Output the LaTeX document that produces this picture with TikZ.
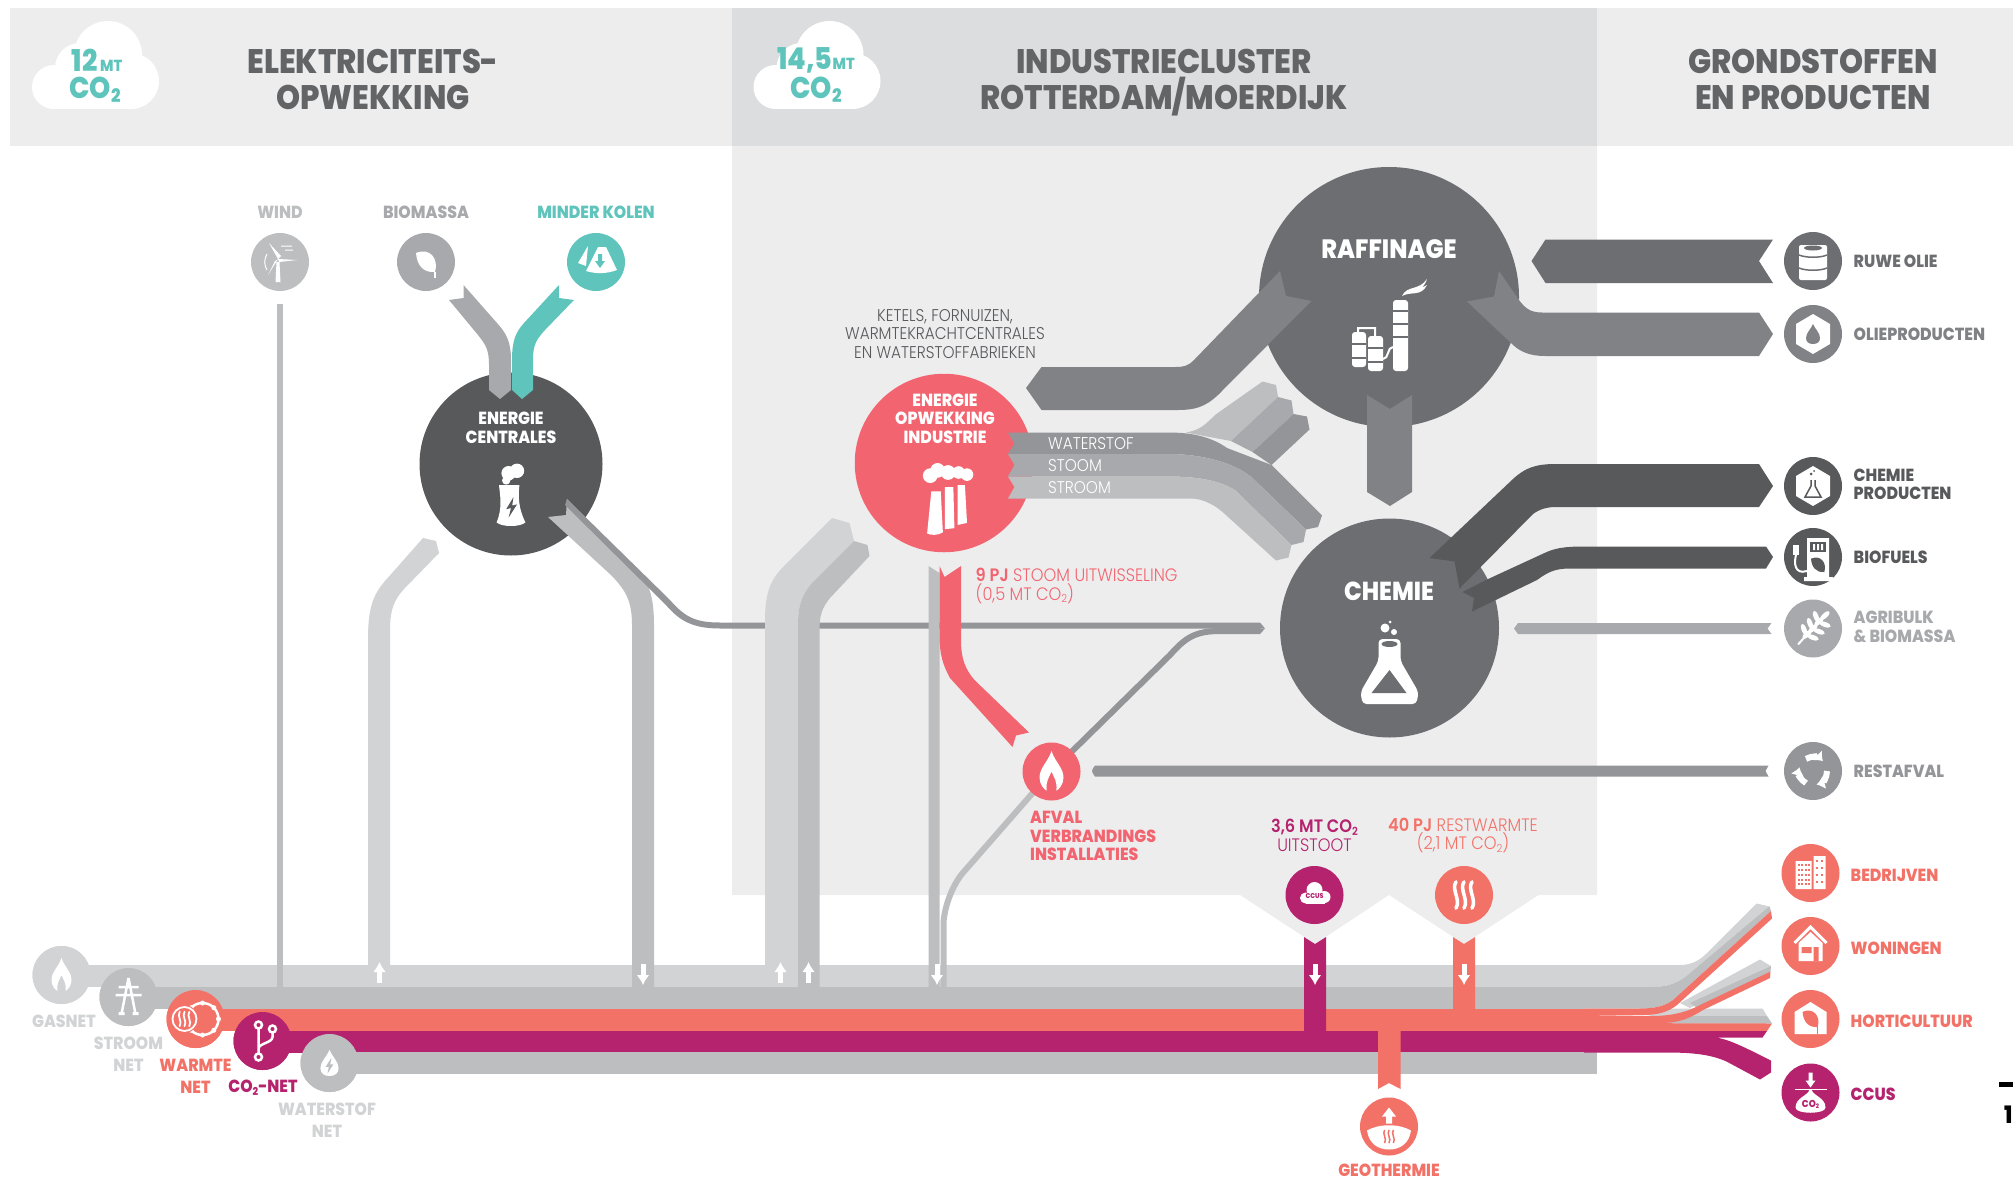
\documentclass[tikz,border=0pt]{standalone}
\usepackage{fontspec}
\usepackage{tikz}
\setmainfont[FakeStretch=0.9,BoldFont={Poppins ExtraBold}]{Poppins}
\newfontfamily\thinfont[FakeStretch=0.9]{Poppins Light}
\definecolor{gasgray}{HTML}{D1D3D4}
\definecolor{netgray}{HTML}{BCBEC0}
\definecolor{warmcoral}{HTML}{F37268}
\definecolor{coplum}{HTML}{B5236E}
\definecolor{firered}{HTML}{F26570}
\definecolor{coalteal}{HTML}{5EC4BC}
\definecolor{midgray}{HTML}{6D6E71}
\definecolor{flowgray}{HTML}{808285}
\definecolor{darkgray}{HTML}{58595B}
\definecolor{linegray}{HTML}{939598}
\definecolor{softgray}{HTML}{A7A9AC}
\definecolor{bandlight}{HTML}{EDEDEE}
\definecolor{banddark}{HTML}{DCDDDE}
\definecolor{titlegray}{HTML}{636466}
\newcommand{\COtwo}{CO\raisebox{-.25ex}{\scalebox{.62}{2}}}
\newcommand{\steamwaves}[1]{\foreach \x in {-8,0,8} \draw[white,line width=#1,line cap=round] (\x,-12) .. controls (\x-5,-5) and (\x+5,4) .. (\x,12);}
\newcommand{\leafshape}{\fill (-10,-9) .. controls (4,-15) and (13,-3) .. (9,10) .. controls (-3,11) and (-9,3) .. cycle;}
\newcommand{\hexshape}{\fill[white] (0,-20) -- (17,-10) -- (17,10) -- (0,20) -- (-17,10) -- (-17,-10) -- cycle;}
\newcommand{\dropshape}[1]{\fill[#1] (0,-10) .. controls (-2,-5) and (-7,-1) .. (-7,4) .. controls (-7,8) and (-4,10) .. (0,10) .. controls (4,10) and (7,8) .. (7,4) .. controls (7,-1) and (2,-5) .. (0,-10) -- cycle;}
\newcommand{\flameshape}{\fill[white] (0,-17) .. controls (-3,-8) and (-10,-3) .. (-10,5) .. controls (-10,11) and (-6,15) .. (-4,16) .. controls (-5,8) and (-2,5) .. (0,0) .. controls (2,5) and (5,8) .. (4,16) .. controls (6,15) and (10,11) .. (10,5) .. controls (10,-3) and (3,-8) .. (0,-17) -- cycle;}
\newcommand{\cloudshape}{%
  \fill[white] (76,55) circle (34) (48,68) circle (25) (22,87) circle (22) (99,81) circle (28);
  \fill[white] (22,70) rectangle (99,109);}
\tikzset{
  node style/.style={circle, inner sep=0pt, minimum size=58pt},
  big style/.style={circle, inner sep=0pt, fill=midgray},
  title style/.style={font=\fontsize{34}{36}\selectfont\bfseries, text=titlegray, align=center},
  label style/.style={font=\fontsize{17.5}{22}\selectfont\bfseries, align=center, inner sep=0pt},
  right style/.style={font=\fontsize{17.5}{18.5}\selectfont\bfseries, align=left, anchor=west, inner sep=0pt},
  bold style/.style={font=\fontsize{17.5}{18.5}\selectfont\bfseries, text=white, align=center, inner sep=0pt},
  thin style/.style={font=\fontsize{17}{18.5}\selectfont\thinfont, inner sep=0pt},
  wide thin/.style={font=\fontsize{18}{18.5}\selectfont\thinfont},
  cloud style/.style={font=\fontsize{30}{30}\selectfont\bfseries, text=coalteal, inner sep=0pt},
  net line/.style={line width=22pt},
  net arrow/.style={white, line width=5pt, -{Latex[length=10pt,width=13pt]}}
}
\usetikzlibrary{arrows.meta}
\begin{document}
\begin{tikzpicture}[x=1pt,y=-1pt]
        \useasboundingbox (0,0) rectangle (2013,1181);
        % Header bands and the industry panel
        \fill[bandlight] (10,8) rectangle (732,146);
        \fill[banddark] (732,8) rectangle (1597,146);
        \fill[bandlight] (1597,8) rectangle (2013,146);
        \fill[bandlight] (732,146) -- (1597,146) -- (1597,895) -- (1538.5,895) -- (1464,944) -- (1389,895)
            -- (1315,944) -- (1240,895) -- (732,895) -- cycle;
        \begin{scope}[shift={(32,0)}]\cloudshape\end{scope}
        \begin{scope}[shift={(753.5,0)}]\cloudshape\end{scope}
        \node[cloud style] at (97,60) (cloudone) {12\fontsize{16}{16}\selectfont\,MT};
        \node[cloud style] at (95,90) (cloudonec) {\COtwo};
        \node[cloud style] at (816,60) (cloudtwo) {14,5\fontsize{16}{16}\selectfont MT};
        \node[cloud style] at (816,90) (cloudtwoc) {\COtwo};
        \node[title style] at (373,79) (titleone) {ELEKTRICITEITS-\\OPWEKKING};
        \node[title style] at (1164,83) (titletwo) {INDUSTRIECLUSTER\\ROTTERDAM/MOERDIJK};
        \node[title style] at (1813,79) (titlethree) {GRONDSTOFFEN\\EN PRODUCTEN};

        % Net rows
        \coordinate (gasend) at (1584,976);
        \coordinate (stroomend) at (1584,998);
        \coordinate (warmteend) at (1584,1020);
        \coordinate (coend) at (1584,1041.5);
        \coordinate (waterend) at (1597,1063);
        \node[node style, fill=gasgray] at (61.5,975) (gasnet) {};
        \node[node style, fill=netgray] at (128.5,997) (stroomnet) {};
        \node[node style, fill=warmcoral] at (195.5,1019) (warmtenet) {};
        \node[node style, fill=coplum] at (262.5,1041) (conet) {};
        \node[node style, fill=netgray] at (329.5,1063) (waternet) {};
        \draw[net line, gasgray] (gasnet.center |- 0,976) -- (gasend);
        \draw[net line, netgray] (stroomnet.center |- 0,998) -- (stroomend);
        \draw[net line, warmcoral] (warmtenet.center |- 0,1020) -- (warmteend);
        \draw[net line, coplum] (conet.center |- 0,1041.5) -- (coend);
        \draw[net line, netgray] (waternet.center) -- (waterend);
        \node[node style, fill=gasgray] at (gasnet) {};
        \node[node style, fill=netgray] at (stroomnet) {};
        \node[node style, fill=warmcoral] at (warmtenet) {};
        \node[node style, fill=coplum] at (conet) {};
        \node[node style, fill=netgray] at (waternet) {};

        % Fan at the right end of the rows
        \fill[gasgray] (1640,1008.5) -- (1762.5,1008.5) -- (1767,1016) -- (1650,1016) -- cycle;
        \fill[netgray] (1650,1016) -- (1767,1016) -- (1772,1023.5) -- (1650,1023.5) -- cycle;
        \fill[warmcoral] (1584,1023) -- (1772,1023.5) -- (1767,1031) -- (1584,1031) -- cycle;
        \fill[gasgray] (1680,1003) -- (1760,959.5) -- (1771,966) -- (1690,1008) -- cycle;
        \fill[netgray] (1690,1003) -- (1771,966) -- (1770.5,971.5) -- (1700,1010) -- cycle;
        \fill[warmcoral] (1584,1015) -- (1650,1016) .. controls (1670,1016) and (1685,1013) .. (1700,1005)
            -- (1770.5,971.5) -- (1770,978) -- (1703,1010) .. controls (1690,1018) and (1680,1023) .. (1660,1023) -- (1584,1023) -- cycle;
        \fill[gasgray] (1584,965) -- (1680,965) .. controls (1692,965) and (1700,960) .. (1707,953)
            -- (1756.5,903.5) -- (1769.5,906.5) -- (1766.5,908.5) -- (1690,973) .. controls (1680,982) and (1670,987) .. (1650,987) -- (1584,987) -- cycle;
        \fill[netgray] (1584,987) -- (1650,987) .. controls (1670,987) and (1680,982) .. (1690,973)
            -- (1766.5,908.5) -- (1769.5,906.5) -- (1771,911) -- (1673,1000) .. controls (1665,1006) and (1655,1008.5) .. (1640,1008.5) -- (1584,1008.5) -- cycle;
        \fill[warmcoral] (1584,1008.5) -- (1640,1008.5) .. controls (1655,1008.5) and (1665,1006) .. (1673,1000)
            -- (1771,911) -- (1772,918.5) -- (1677,1005) .. controls (1668,1012) and (1658,1015) .. (1643,1015) -- (1584,1015) -- cycle;
        \fill[coplum] (1584,1031) -- (1767,1031) -- (1762.5,1037.5) -- (1716.5,1037.5) .. controls (1730,1040) and (1742,1046) .. (1771,1060.5)
            -- (1771,1072.5) -- (1760,1079.5) -- (1726.5,1061.5) .. controls (1712,1055) and (1695,1052.5) .. (1667,1052.5) -- (1584,1052.5) -- cycle;

        % Sources on top
        \node[node style, fill=netgray] at (280,262) (wind) {};
        \node[node style, fill=softgray] at (426,262) (biomassa) {};
        \node[node style, fill=coalteal] at (596,262) (kolen) {};
        \node[label style, text=netgray] at (280,212.5) (windlabel) {WIND};
        \node[label style, text=softgray] at (426,212.5) (biolabel) {BIOMASSA};
        \node[label style, text=coalteal] at (596,212.5) (kolenlabel) {MINDER KOLEN};
        \coordinate (windstart) at (280,304);
        \coordinate (windend) at (280,987);
        \draw[line width=6.5pt, netgray] (windstart) -- (windend);

        % Plants
        \node[big style, fill=darkgray, minimum size=183pt] at (511,464) (centrales) {};
        \node[big style, fill=firered, minimum size=178.5pt] at (944,463) (industrie) {};
        \node[big style, minimum size=260pt] at (1389,297) (raffinage) {};
        \node[big style, minimum size=219pt] at (1389.5,628) (chemie) {};
        \node[bold style] at (511,428) (centralestext) {ENERGIE\\CENTRALES};
        \node[bold style] at (945,418.5) (industrietext) {ENERGIE\\OPWEKKING\\INDUSTRIE};
        \node[bold style, font=\fontsize{26.5}{28}\selectfont\bfseries] at (1389,249) (raffinagetext) {RAFFINAGE};
        \node[bold style, font=\fontsize{26}{28}\selectfont\bfseries] at (1389,591) (chemietext) {CHEMIE};

        % Thin lines towards the chemie circle, with the return pipe under them
        \fill[netgray] (548,517) -- (566,515) -- (567,499) -- (640,572) .. controls (650,585) and (654,600) .. (654,625)
            -- (654,987) -- (632,987) -- (632,625) .. controls (632,600) and (625,590) .. (612,576) -- cycle;
        \fill[linegray] (567,499) -- (670,600) .. controls (685,617) and (695,622.5) .. (720,622.5) -- (1260,622.5) -- (1265,628.5) -- (1260,628.5) -- (720,628.5)
            .. controls (690,628.5) and (678,619) .. (665,604) -- (565,505) -- cycle;
        \draw[line width=6pt, netgray, rounded corners=30pt] (943.5,987) -- (943.5,895) -- (1051,772);
        \draw[line width=6pt, linegray] (1051,772) -- (1170,655) .. controls (1185,638) and (1195,631) .. (1220,631) -- (1260,631);
        \fill[linegray] (1260,628.5) -- (1265,628.5) -- (1260,634) -- cycle;

        % Pipes between the net and the plants
        \fill[gasgray] (423,538) -- (436,541) -- (439,553) -- (404,589) .. controls (394,600) and (390,610) .. (390,630)
            -- (390,987) -- (368,987) -- (368,640) .. controls (368,610) and (372,596) .. (385,581) -- cycle;
        \fill[gasgray] (832,518) -- (849.5,523) -- (854,541) -- (812,583) .. controls (802,595) and (798,605) .. (798,625)
            -- (798,987) -- (765,987) -- (765,620) .. controls (765,590) and (772,578) .. (785,565) -- cycle;
        \fill[netgray] (854,541) -- (867.5,545) -- (869.5,556) -- (830,598) .. controls (822,608) and (819.5,615) .. (819.5,630)
            -- (819.5,987) -- (798,987) -- (798,625) .. controls (798,605) and (802,595) .. (812,583) -- cycle;
        \fill[netgray] (928.5,566) -- (939.5,573) -- (939.5,987) -- (928.5,987) -- cycle;

        % Ribbons into the plants
        \fill[softgray] (463.5,285) -- (463.5,298) -- (449,300) -- (478,335) .. controls (486,345) and (489,350) .. (489,365)
            -- (489,390) -- (500,399) -- (511,390) -- (511,360) .. controls (511,340) and (505,332) .. (497,323) -- cycle;
        \fill[coalteal] (574,300) -- (559,298) -- (559,285) -- (524,323) .. controls (516,332) and (512,340) .. (512,360)
            -- (512,390) -- (522,399) -- (533,390) -- (533,360) .. controls (533,345) and (536,340) .. (545,330) -- cycle;
        \fill[flowgray] (1026,388) -- (1041.5,367) -- (1175,367) .. controls (1184,367) and (1188,366) .. (1194,360) -- (1280,271)
            -- (1286,296) -- (1311.5,301) -- (1218,395) .. controls (1205,407) and (1195,410) .. (1178,410) -- (1041.5,410) -- cycle;
        \fill[flowgray] (1367,395) -- (1390,409) -- (1412,395) -- (1412,492) -- (1390,506) -- (1367,492) -- cycle;
        \fill[midgray] (1531.5,261) -- (1545.5,239.5) -- (1773,239.5) -- (1759,261) -- (1773,283) -- (1545.5,283) -- cycle;
        \fill[flowgray] (1773,334) -- (1759,312.5) -- (1542,312.5) .. controls (1530,312.5) and (1525,308) .. (1519,300) -- (1499,271)
            -- (1494,296.5) -- (1467,301.5) -- (1511.5,343.5) .. controls (1520,352) and (1530,356) .. (1545,356) -- (1759,356) -- cycle;
        \fill[darkgray] (1773,486) -- (1759,464) -- (1556,464) .. controls (1535,464) and (1525,468) .. (1513,479) -- (1429.5,558)
            -- (1454.5,561.5) -- (1459.5,588.5) -- (1533,514) .. controls (1540,509) and (1547,507) .. (1556,507) -- (1759,507) -- cycle;
        \fill[darkgray] (1773,557) -- (1766,546.5) -- (1584,546.5) .. controls (1565,546.5) and (1555,548) .. (1544.5,553) -- (1486,580)
            -- (1462.5,592) -- (1474,598) -- (1472,611.5) -- (1537,580) .. controls (1548,572) and (1555,568.5) .. (1570,568.5) -- (1766,568.5) -- cycle;
        \fill[softgray] (1514,628.5) -- (1518,623) -- (1771.5,623) -- (1767.5,628.5) -- (1771.5,634) -- (1518,634) -- cycle;
        \fill[linegray] (1095,765.5) -- (1768.5,765.5) -- (1765.5,771) -- (1768.5,776.5) -- (1095,776.5) .. controls (1091,771) and (1091,771) .. cycle;

        % The three steam and power ribbons, upward branches first
        \fill[netgray] (1186,432.5) .. controls (1200,430) and (1205,425) .. (1215,415) -- (1262.5,381.5) -- (1276,385) -- (1278,397) -- (1231,441) -- cycle;
        \fill[softgray] (1231,441) -- (1278,397) -- (1291.5,400.5) -- (1293.5,414) -- (1252.5,452) -- cycle;
        \fill[linegray] (1252.5,452) -- (1293.5,414) -- (1307,416.5) -- (1309.5,429.5) -- (1271.5,465) -- cycle;
        \fill[linegray] (1008,432.5) -- (1168.5,432.5) .. controls (1190,432.5) and (1210,436) .. (1227,448) -- (1271.5,465) -- (1322,515.5) -- (1318,527) -- (1306,529.5)
            -- (1253.5,479) .. controls (1235,462) and (1200,454) .. (1168.5,454) -- (1008,454) -- (1014.5,443.5) -- cycle;
        \fill[softgray] (1008,454) -- (1168.5,454) .. controls (1200,454) and (1235,462) .. (1253.5,479) -- (1306,529.5) -- (1303.5,542) -- (1291.5,545)
            -- (1235.5,490.5) .. controls (1220,480) and (1195,476.5) .. (1168.5,476.5) -- (1008,476.5) -- (1014.5,465) -- cycle;
        \fill[netgray] (1008,476.5) -- (1168.5,476.5) .. controls (1195,476.5) and (1220,480) .. (1235.5,490.5) -- (1291.5,545) -- (1288.5,557.5) -- (1276,560.5)
            -- (1222,511.5) .. controls (1212,503) and (1200,498.5) .. (1191,498.5) -- (1008,498.5) -- (1014.5,487) -- cycle;
        \node[thin style, text=white, anchor=west] at (1048,444) (waterstofflow) {WATERSTOF};
        \node[thin style, text=white, anchor=west] at (1048,465.5) (stoomflow) {STOOM};
        \node[thin style, text=white, anchor=west] at (1048,487.5) (stroomflow) {STROOM};
        \node[thin style, text=darkgray, align=center] at (945,334) (ketels) {KETELS, FORNUIZEN,\\WARMTEKRACHTCENTRALES\\EN WATERSTOFFABRIEKEN};

        % Steam exchange and waste incineration
        \fill[firered] (939.5,566) -- (944.5,577) -- (961,566) -- (961,640) .. controls (961,660) and (966,670) .. (974.5,680) -- (1029,732.5)
            -- (1016,735.5) -- (1012.5,747) -- (950,678) .. controls (943,665) and (939.5,655) .. (939.5,635) -- cycle;
        \node[thin style, wide thin, text=firered, anchor=west, align=left] at (975.5,586) (stoomtext) {{\bfseries 9 PJ} STOOM UITWISSELING\\(0,5 MT \COtwo)};
        \node[node style, fill=firered] at (1051.5,771.5) (afval) {};
        \node[right style, text=firered, anchor=north west] at (1030,811) (afvaltext) {AFVAL\\VERBRANDINGS\\INSTALLATIES};

        % CCUS and rest heat connections to the net
        \fill[coplum] (1304,937) -- (1315,944) -- (1326,937) -- (1326,1031) -- (1304,1031) -- cycle;
        \fill[warmcoral] (1453,937) -- (1464,944) -- (1475,937) -- (1475,1009) -- (1453,1009) -- cycle;
        \fill[warmcoral] (1378,1031) -- (1400.5,1031) -- (1400.5,1089) -- (1389,1083) -- (1378,1089) -- cycle;
        \node[node style, fill=coplum] at (1314.5,895) (uitstoot) {};
        \node[node style, fill=warmcoral] at (1464,895) (restwarmte) {};
        \node[node style, fill=warmcoral] at (1389,1126.5) (geothermie) {};
        \node[thin style, wide thin, text=coplum, align=center] at (1314.5,835.5) (uitstoottext) {{\bfseries 3,6 MT \COtwo}\\UITSTOOT};
        \node[thin style, wide thin, text=warmcoral, align=center] at (1463,835.5) (resttext) {{\bfseries 40 PJ} RESTWARMTE\\(2,1 MT \COtwo)};
        \node[label style, text=warmcoral, font=\fontsize{17.5}{18}\selectfont\bfseries] at (1389,1170.5) (geotext) {GEOTHERMIE};

        % Net labels and the flow arrows
        \node[label style, text=gasgray] at (64,1021.5) (gaslabel) {GASNET};
        \node[label style, text=gasgray] at (128.5,1054.5) (stroomlabel) {STROOM\\NET};
        \node[label style, text=warmcoral] at (195.5,1076.5) (warmtelabel) {WARMTE\\NET};
        \node[label style, text=coplum] at (263,1087.5) (colabel) {\COtwo-NET};
        \node[label style, text=gasgray] at (327,1120.5) (waterlabel) {WATERSTOF\\NET};
        \foreach \x in {379.5,780.5,808.5} \draw[net arrow] (\x,983) -- (\x,962);
        \foreach \x in {643,937,1315,1464} \draw[net arrow] (\x,964) -- (\x,985);

        % Right hand circles and labels
        \node[node style, fill=midgray] at (1813,261) (ruweolie) {};
        \node[node style, fill=flowgray] at (1813,334) (olieprod) {};
        \node[node style, fill=darkgray] at (1813,486) (chemieprod) {};
        \node[node style, fill=darkgray] at (1813,557) (biofuels) {};
        \node[node style, fill=softgray] at (1813,628.5) (agribulk) {};
        \node[node style, fill=linegray] at (1813,771) (restafval) {};
        \node[node style, fill=warmcoral] at (1810.5,873) (bedrijven) {};
        \node[node style, fill=warmcoral] at (1810.5,946) (woningen) {};
        \node[node style, fill=warmcoral] at (1810.5,1019) (horti) {};
        \node[node style, fill=coplum] at (1810.5,1092.5) (ccus) {};
        \node[right style, text=midgray] at (1853.5,261.5) (ruwetext) {RUWE OLIE};
        \node[right style, text=flowgray] at (1853.5,334.5) (olietext) {OLIEPRODUCTEN};
        \node[right style, text=darkgray] at (1853.5,484.5) (chemieprodtext) {CHEMIE\\PRODUCTEN};
        \node[right style, text=darkgray] at (1853.5,557.5) (biotext) {BIOFUELS};
        \node[right style, text=softgray] at (1853.5,627) (agritext) {AGRIBULK\\\& BIOMASSA};
        \node[right style, text=linegray] at (1853.5,771.5) (resttextb) {RESTAFVAL};
        \node[right style, text=warmcoral] at (1850.5,875.5) (bedrijventext) {BEDRIJVEN};
        \node[right style, text=warmcoral] at (1850.5,948.5) (woningentext) {WONINGEN};
        \node[right style, text=warmcoral] at (1850.5,1021.5) (hortitext) {HORTICULTUUR};
        \node[right style, text=coplum] at (1850.5,1094) (ccustext) {CCUS};

        % Icons
        % gas flame
        \begin{scope}[shift={(gasnet)}]
            \flameshape
        \end{scope}
        % waste flame
        \begin{scope}[shift={(afval)}, scale=1.2]
            \flameshape
        \end{scope}
        % pylon
        \begin{scope}[shift={(stroomnet)}, white, line width=2.5pt]
            \draw (0,-19) -- (-7,17) (0,-19) -- (7,17) (-10,-10) -- (10,-10) (-13,-2) -- (13,-2);
            \fill[white] (-10,15) rectangle (-4,18) (4,15) rectangle (10,18);
        \end{scope}
        % heat network
        \begin{scope}[shift={(warmtenet)}]
            \draw[white, line width=2.5pt] (7,0) circle (16);
            \foreach \a in {0,45,...,315} \fill[white] (7,0) ++(\a:16) circle (2.5);
            \fill[warmcoral] (-11,0) circle (14);
            \draw[white, line width=1.8pt] (-11,0) circle (12);
            \begin{scope}[shift={(-11,0)}, scale=.6]\steamwaves{1.8pt}\end{scope}
        \end{scope}
        % co2 branches
        \begin{scope}[shift={(conet)}, white, line width=2.5pt]
            \draw (-4,-14) -- (-4,16) (10,-10) -- (10,-4) .. controls (10,2) and (-4,2) .. (-4,8);
            \draw[fill=coplum] (-4,-16) circle (3.5) (10,-12) circle (3.5) (-4,16) circle (3.5);
        \end{scope}
        % hydrogen drop
        \begin{scope}[shift={(waternet)}, scale=1.3]
            \dropshape{white}
            \fill[netgray] (1.5,-4) -- (-3,3) -- (-.5,3) -- (-1.5,8) -- (3,1) -- (.5,1) -- cycle;
        \end{scope}
        % wind turbine
        \begin{scope}[shift={(wind)}]
            \fill[white] (-2,-3) -- (-11,-19) -- (1,-6) -- cycle (-2,-3) -- (17,-2) -- (-1,0) -- cycle (-2,-3) -- (-12,13) -- (-5,-1) -- cycle;
            \fill[white] (-3.5,0) -- (-.5,0) -- (.5,20) -- (-4.5,20) -- cycle;
            \draw[white, line width=1pt] (-13,-8) .. controls (-16,-3) and (-16,3) .. (-13,8) (1,-16) -- (12,-16) (5,-12) -- (13,-12);
        \end{scope}
        % leaf
        \begin{scope}[shift={(biomassa)}, white]
            \leafshape
            \draw[line width=1.5pt] (9,10) -- (9,16);
        \end{scope}
        % coal heaps
        \begin{scope}[shift={(kolen)}]
            \fill[white] (-8,-16) -- (-18,1) -- (-10,4) -- cycle (2,-15) -- (-10,9) .. controls (0,12) and (10,12) .. (21,8) -- (10,-15) -- cycle;
            \fill[coalteal] (2,-8) rectangle (6,0) (-1,-1) -- (4,6) -- (9,-1) -- cycle;
        \end{scope}
        % cooling tower
        \begin{scope}[shift={(centrales)}, shift={(0,38)}, scale=1.2]
            \fill[white] (-12,17) .. controls (-7,5) and (-9,-5) .. (-10,-14) -- (7,-14) .. controls (6,-5) and (6,5) .. (12,17) .. controls (8,21) and (-8,21) .. (-12,17) -- cycle;
            \fill[white] (-2,-24) circle (6) (5,-26) circle (6) (-4,-18) circle (3.5);
            \fill[darkgray] (2,-4) -- (-4,6) -- (0,5) -- (-2,13) -- (5,2) -- (1,3) -- cycle;
        \end{scope}
        % chimneys
        \begin{scope}[shift={(industrie)}, shift={(2,41)}, scale=1.05]
            \fill[white] (-18,28) -- (-14,-12) -- (-5,-12) -- (-3,27) .. controls (-8,30) and (-14,30) .. (-18,28) -- cycle;
            \fill[white] (-1,24) -- (-1,-16) -- (7,-16) -- (8,23) -- cycle;
            \fill[white] (11,20) -- (11,-18) -- (18,-18) -- (20,18) -- cycle;
            \fill[white] (-15,-27) circle (7) (-8,-32) circle (7) (2,-30) circle (7) (12,-30) circle (6) (20,-28) circle (6);
        \end{scope}
        % refinery
        \begin{scope}[shift={(raffinage)}]
            \fill[white, rounded corners=3pt] (-37,35) rectangle (-23,70) (-21,39) rectangle (-6,74) (4,3) rectangle (19,74);
            \draw[midgray, line width=1.5pt] (-37,47) -- (-23,47) (-37,61) -- (-23,61) (-21,51) -- (-6,51) (-21,65) -- (-6,65);
            \draw[midgray, line width=1.5pt] (4,14) -- (19,14) (4,27) -- (19,27) (4,40) -- (19,40);
            \draw[white, line width=2pt] (-31,35) -- (-31,31) -- (-14,31) -- (-14,39) (-6,62) .. controls (0,62) and (-2,50) .. (4,50);
            \fill[white] (13,-1) .. controls (18,-12) and (30,-6) .. (38,-18) .. controls (36,-12) and (34,-11) .. (33,-10) .. controls (35,-10) and (36,-11) .. (38,-12) .. controls (32,0) and (22,-6) .. (13,-1) -- cycle;
        \end{scope}
        % flask
        \begin{scope}[shift={(chemie)}]
            \fill[white, rounded corners=4pt] (-11,11) -- (-11,33) -- (-29,64) -- (-27,76) -- (27,76) -- (29,64) -- (11,33) -- (11,11) -- cycle;
            \fill[midgray] (0,16) ellipse (8 and 3) (0,42) -- (-18,65) -- (17,65) -- cycle;
            \fill[white] (-4.5,0) circle (4.5) (4.5,4) circle (3) (.5,-6) circle (1.5);
        \end{scope}
        % barrel
        \begin{scope}[shift={(ruweolie)}]
            \fill[white, rounded corners=2pt] (-14,-16) rectangle (14,19);
            \fill[midgray] (0,-13) ellipse (9 and 2.5);
            \draw[midgray, line width=1.5pt] (-14,-6) .. controls (-7,-3) and (7,-3) .. (14,-6) (-14,7) .. controls (-7,10) and (7,10) .. (14,7);
        \end{scope}
        % cube with drop
        \begin{scope}[shift={(olieprod)}]
            \hexshape
            \dropshape{flowgray}
        \end{scope}
        % cube with flask
        \begin{scope}[shift={(chemieprod)}]
            \hexshape
            \draw[darkgray, line width=1.5pt] (-2,-6) -- (-2,0) -- (-8,11) -- (8,11) -- (2,0) -- (2,-6);
            \fill[darkgray] (-2,-12) circle (1.5) (1,-15) circle (1);
        \end{scope}
        % fuel pump
        \begin{scope}[shift={(biofuels)}]
            \fill[white] (-6,-19) rectangle (16,21) (-9,20) rectangle (20,24);
            \fill[darkgray] (-3,-15) rectangle (13,-5);
            \fill[white] (0,-13) rectangle (2,-7) (4,-13) rectangle (6,-7) (8,-13) rectangle (10,-7);
            \begin{scope}[shift={(5,8)}, scale=.7, darkgray]\leafshape\end{scope}
            \draw[white, line width=2pt] (-6,14) .. controls (-19,18) and (-19,5) .. (-17,-2);
            \fill[white] (-20,-12) rectangle (-14,-2);
        \end{scope}
        % wheat
        \begin{scope}[shift={(agribulk)}, white]
            \draw[line width=2pt] (-15,16) -- (13,-15);
            \foreach \a/\b in {-6/6,0/0,6/-7,12/-13} {
                \fill[rotate around={-48:(\a,\b)}] (\a,\b) ellipse (2.5 and 6);
            }
            \foreach \a/\b in {-6/6,0/0,6/-7} {
                \fill[rotate around={20:(\a-3,\b-5)}] (\a-3,\b-5) ellipse (2.5 and 6);
                \fill[rotate around={70:(\a+6,\b+3)}] (\a+6,\b+3) ellipse (2.5 and 6);
            }
        \end{scope}
        % recycling arrows
        \begin{scope}[shift={(restafval)}]
            \foreach \a in {0,120,240} {
                \draw[white, line width=6pt, -{Latex[length=8pt,width=14pt]}] (\a:14) arc (\a:\a+75:14);
            }
        \end{scope}
        % buildings
        \begin{scope}[shift={(bedrijven)}]
            \fill[white] (-15,-12) rectangle (1,16) (3,-17) rectangle (15,16);
            \foreach \y in {-8,-3,2,7,11} \draw[warmcoral, line width=2pt, dash pattern=on 2pt off 1.5pt] (-13,\y) -- (0,\y);
            \foreach \y in {-12,-5,2,9} \draw[warmcoral, line width=2pt, dash pattern=on 2pt off 3pt] (5,\y) -- (14,\y);
        \end{scope}
        % house
        \begin{scope}[shift={(woningen)}]
            \draw[white, line width=3pt] (-16,-3) -- (0,-19) -- (16,-3);
            \fill[white] (-12,-3) -- (0,-14) -- (12,-3) -- (12,15) -- (-12,15) -- cycle;
            \fill[warmcoral] (-9,1) rectangle (1,7) (3,1) rectangle (8,15);
        \end{scope}
        % greenhouse
        \begin{scope}[shift={(horti)}]
            \fill[white] (-16,-7) -- (0,-17) -- (16,-7) -- (16,15) -- (-16,15) -- cycle;
            \begin{scope}[scale=.8, warmcoral]\leafshape\end{scope}
            \draw[warmcoral, line width=1.5pt] (7,8) -- (7,15);
        \end{scope}
        % storage bag
        \begin{scope}[shift={(ccus)}]
            \draw[white, line width=1.5pt] (-16,-3) -- (16,-3);
            \fill[white] (-2,-20) rectangle (2,-12) (-5,-12) -- (5,-12) -- (0,-5) -- cycle;
            \fill[white] (-1,-3) .. controls (-2,3) and (-15,5) .. (-15,15) .. controls (-15,22) and (15,22) .. (15,15) .. controls (15,5) and (2,3) .. (1,-3) -- cycle;
            \node[font=\fontsize{10}{10}\selectfont\bfseries, text=coplum, inner sep=0pt] at (0,12) (ccusmark) {\COtwo};
        \end{scope}
        % cloud with text
        \begin{scope}[shift={(uitstoot)}]
            \fill[white] (0,-5) circle (8) (-9,3) circle (5.5) (10,2) circle (6);
            \fill[white] (-9,1) rectangle (10,8.5);
            \node[font=\fontsize{7}{7}\selectfont\bfseries, text=coplum, inner sep=0pt] at (0,1) (ccusword) {CCUS};
        \end{scope}
        % rest heat
        \begin{scope}[shift={(restwarmte)}, yscale=1.1]
            \steamwaves{3.5pt}
        \end{scope}
        % geothermal
        \begin{scope}[shift={(geothermie)}]
            \fill[white] (-3,-10) rectangle (3,-3) (-7,-10) -- (0,-19) -- (7,-10) -- cycle;
            \fill[white] (-22,4) .. controls (-10,-3) and (10,-3) .. (22,4) .. controls (20,18) and (10,23) .. (0,23) .. controls (-10,23) and (-20,18) .. (-22,4) -- cycle;
            \begin{scope}[shift={(0,10)}, scale=.55]\foreach \x in {-8,0,8} \draw[warmcoral, line width=1.5pt] (\x,-12) .. controls (\x-5,-5) and (\x+5,4) .. (\x,12);\end{scope}
        \end{scope}
        % crop mark at the page edge
        \fill[black] (1999,1082) rectangle (2013,1087);
        \clip (0,0) rectangle (2013,1181);
        \node[font=\fontsize{24}{24}\selectfont\bfseries, text=black, inner sep=0pt, anchor=west] at (2004,1115) (pagemark) {1};
\end{tikzpicture}
\end{document}
